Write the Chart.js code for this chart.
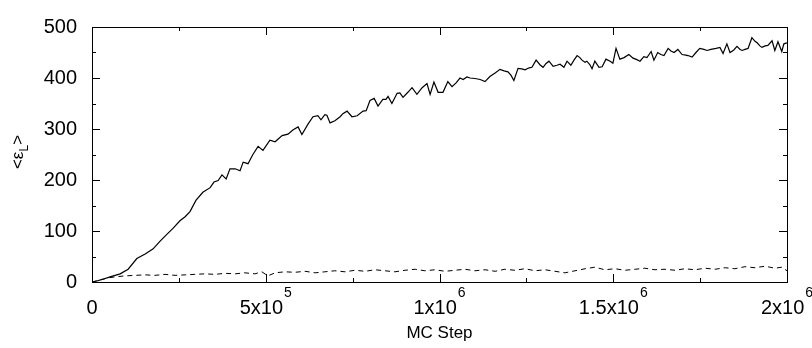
<!DOCTYPE html>
<html>
<head>
<meta charset="utf-8">
<script src="https://cdn.jsdelivr.net/npm/chart.js@4.4.1/dist/chart.umd.min.js"></script>
<style>
  html, body { margin: 0; padding: 0; background: #fff; }
  #wrap { width: 812px; height: 348px; }
</style>
</head>
<body>
<div id="wrap"><canvas id="mcChart" width="812" height="348"></canvas></div>
<script>
// --- data (steps in thousands) ---
const solidSteps = [0, 14, 29, 52, 81, 104, 129, 153, 176, 196, 216, 233, 253, 268, 282, 299, 319, 340, 351, 363,
  374, 386, 397, 412, 426, 435, 449, 463, 478, 492, 512, 527, 547, 564, 578, 593, 604, 622, 636, 650,
  659, 670, 676, 685, 699, 714, 722, 734, 748, 763, 780, 789, 800, 812, 823, 837, 846, 852, 863, 878,
  886, 895, 909, 921, 935, 950, 964, 973, 984, 996, 1010, 1024, 1036, 1047, 1059, 1068, 1079, 1088, 1102, 1117,
  1131, 1145, 1160, 1174, 1186, 1197, 1206, 1214, 1226, 1237, 1246, 1258, 1266, 1278, 1289, 1298, 1306, 1315, 1327, 1338,
  1347, 1358, 1367, 1378, 1387, 1396, 1404, 1410, 1419, 1424, 1433, 1439, 1447, 1459, 1468, 1479, 1491, 1499, 1508, 1519,
  1531, 1545, 1557, 1568, 1577, 1588, 1597, 1609, 1617, 1628, 1637, 1646, 1658, 1666, 1675, 1686, 1698, 1709, 1715, 1727,
  1738, 1749, 1761, 1770, 1781, 1796, 1807, 1816, 1827, 1836, 1847, 1856, 1865, 1871, 1879, 1888, 1899, 1908, 1914, 1922,
  1928, 1937, 1945, 1957, 1965, 1974, 1985, 1991, 2000];
const solidValues = [0, 2, 5, 10, 16, 25, 46, 55, 65, 80, 94, 105, 120, 128, 138, 160, 176, 185, 196, 199,
  210, 202, 222, 222, 218, 235, 232, 250, 266, 258, 278, 275, 287, 290, 298, 304, 289, 310, 324, 326,
  318, 328, 327, 312, 316, 324, 330, 335, 324, 326, 335, 336, 356, 360, 345, 358, 358, 364, 350, 370,
  371, 362, 372, 381, 368, 381, 389, 368, 392, 372, 372, 393, 383, 390, 400, 397, 402, 400, 399, 397,
  393, 403, 410, 417, 414, 412, 405, 395, 419, 418, 416, 420, 421, 435, 426, 421, 428, 433, 423, 425,
  427, 421, 433, 425, 435, 444, 440, 435, 431, 433, 426, 418, 433, 421, 422, 437, 433, 429, 458, 437,
  440, 446, 439, 436, 433, 442, 440, 452, 435, 450, 446, 444, 458, 453, 450, 456, 446, 445, 444, 441,
  450, 458, 456, 454, 456, 458, 460, 448, 467, 450, 455, 462, 456, 454, 456, 458, 479, 472, 469, 463,
  460, 463, 464, 473, 454, 471, 452, 467, 469];

const dashedSteps = [0, 23, 46, 66, 95, 124, 153, 181, 210, 239, 268, 296, 325, 354, 383, 412, 440, 469, 489, 506,
  527, 555, 584, 613, 642, 670, 699, 728, 757, 786, 814, 843, 872, 901, 930, 958, 987, 1016, 1045, 1073,
  1102, 1131, 1160, 1188, 1217, 1246, 1275, 1304, 1332, 1361, 1390, 1419, 1447, 1476, 1505, 1534, 1563, 1591, 1620, 1649,
  1678, 1706, 1735, 1764, 1793, 1822, 1850, 1879, 1908, 1937, 1965, 1985, 2000];
const dashedValues = [0, 4, 8, 10, 12, 13, 14, 13, 15, 13, 14, 15, 16, 15, 17, 16, 18, 16, 20, 12,
  18, 20, 19, 21, 18, 20, 22, 20, 23, 21, 24, 22, 20, 23, 25, 22, 24, 21, 23, 25,
  22, 24, 21, 25, 23, 26, 22, 24, 21, 18, 22, 26, 29, 24, 26, 23, 25, 27, 24, 25,
  23, 26, 24, 27, 25, 28, 26, 30, 28, 31, 27, 29, 22];

const yTicks = [0, 100, 200, 300, 400, 500];
const xTickLabels = [
  { value: 0, base: '0', exp: '' },
  { value: 500000, base: '5x10', exp: '5' },
  { value: 1000000, base: '1x10', exp: '6' },
  { value: 1500000, base: '1.5x10', exp: '6' },
  { value: 2000000, base: '2x10', exp: '6' }
];

const FONT = '"Liberation Sans", Arial, sans-serif';

function toPoints(steps, vals) {
  return steps.map((s, i) => ({ x: s * 1000, y: vals[i] }));
}

// --- gnuplot-like frame, inward ticks, x labels and y title ---
const framePlugin = {
  id: 'frame',
  afterDraw(chart) {
    const ctx = chart.ctx;
    const a = chart.chartArea;
    const xs = chart.scales.x;
    const ys = chart.scales.y;
    ctx.save();
    ctx.strokeStyle = '#000';
    ctx.lineWidth = 1;
    ctx.strokeRect(Math.round(a.left) + 0.5, Math.round(a.top) + 0.5,
      Math.round(a.right - a.left), Math.round(a.bottom - a.top));

    ctx.beginPath();
    for (let v = 0; v <= 500; v += 50) {
      const y = Math.round(ys.getPixelForValue(v)) + 0.5;
      const len = v % 100 === 0 ? 8 : 4;
      ctx.moveTo(a.left, y); ctx.lineTo(a.left + len, y);
      ctx.moveTo(a.right, y); ctx.lineTo(a.right - len, y);
    }
    for (let v = 0; v <= 2000000; v += 250000) {
      const x = Math.round(xs.getPixelForValue(v)) + 0.5;
      const len = v % 500000 === 0 ? 8 : 4;
      ctx.moveTo(x, a.bottom); ctx.lineTo(x, a.bottom - len);
      ctx.moveTo(x, a.top); ctx.lineTo(x, a.top + len);
    }
    ctx.stroke();

    // x tick labels with superscript exponents
    ctx.fillStyle = '#000';
    ctx.textBaseline = 'alphabetic';
    ctx.textAlign = 'left';
    xTickLabels.forEach(t => {
      const px = xs.getPixelForValue(t.value);
      ctx.font = '20px ' + FONT;
      const bw = ctx.measureText(t.base).width;
      ctx.font = '14px ' + FONT;
      const ew = t.exp ? ctx.measureText(t.exp).width + 1 : 0;
      const x0 = px - (bw + ew) / 2;
      ctx.font = '20px ' + FONT;
      ctx.fillText(t.base, x0, 314);
      if (t.exp) {
        ctx.font = '14px ' + FONT;
        ctx.fillText(t.exp, x0 + bw + 1, 297);
      }
    });

    // x title
    ctx.font = '17px ' + FONT;
    ctx.textAlign = 'center';
    ctx.fillText('MC Step', (a.left + a.right) / 2, 338);

    // y title <ε_L>
    ctx.translate(23, 152);
    ctx.rotate(-Math.PI / 2);
    ctx.font = '17px ' + FONT;
    const p1 = '<ε';
    const w1 = ctx.measureText(p1).width;
    ctx.font = '12px ' + FONT;
    const w2 = ctx.measureText('L').width;
    ctx.font = '17px ' + FONT;
    const w3 = ctx.measureText('>').width;
    let x = -(w1 + w2 + w3) / 2;
    ctx.textAlign = 'left';
    ctx.fillText(p1, x, 0);
    x += w1;
    ctx.font = '12px ' + FONT;
    ctx.fillText('L', x, 5);
    x += w2;
    ctx.font = '17px ' + FONT;
    ctx.fillText('>', x, 0);
    ctx.restore();
  }
};

const canvas = document.getElementById('mcChart');
new Chart(canvas.getContext('2d'), {
  type: 'line',
  data: {
    datasets: [
      {
        data: toPoints(solidSteps, solidValues),
        borderColor: '#000',
        borderWidth: 1.2,
        pointRadius: 0,
        tension: 0,
        fill: false
      },
      {
        data: toPoints(dashedSteps, dashedValues),
        borderColor: '#000',
        borderWidth: 1,
        borderDash: [5, 4],
        pointRadius: 0,
        tension: 0,
        fill: false
      }
    ]
  },
  options: {
    responsive: false,
    animation: false,
    events: [],
    layout: { padding: { left: 0, right: 25, top: 21, bottom: 0 } },
    plugins: { legend: { display: false }, tooltip: { enabled: false } },
    scales: {
      x: {
        type: 'linear',
        min: 0,
        max: 2000000,
        grid: { display: false, drawTicks: false },
        border: { display: false },
        ticks: { display: false },
        afterFit(scale) { scale.height = 348 - 282; }
      },
      y: {
        min: 0,
        max: 500,
        afterBuildTicks(scale) { scale.ticks = yTicks.map(v => ({ value: v })); },
        grid: { display: false, drawTicks: false },
        border: { display: false },
        ticks: {
          color: '#000',
          padding: 15,
          font: { family: FONT, size: 20 }
        },
        afterFit(scale) { scale.width = 92; }
      }
    }
  },
  plugins: [framePlugin]
});
</script>
</body>
</html>
